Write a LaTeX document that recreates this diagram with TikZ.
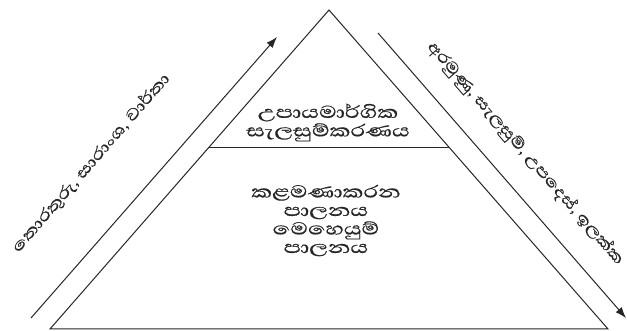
\documentclass[tikz,border=0pt]{standalone}
\usepackage{fontspec}
\newfontfamily\sinhfont[Script=Sinhala,FakeBold=0.5]{Abhaya Libre}
\newcommand{\widetxt}[1]{\scalebox{1.25}[1]{#1}}
\newcommand{\midtxt}[1]{\scalebox{1.33}[1]{#1}}
\usetikzlibrary{calc,arrows.meta}
\begin{document}
\begin{tikzpicture}[x=1pt,y=-1pt,
  edge/.style={line width=1pt,draw=black!85},
  flow/.style={line width=1pt,draw=black!85,-{Latex[length=11pt,width=8pt]}},
  lbl/.style={font=\sinhfont\fontsize{22}{18.5}\selectfont,text=black!85,inner sep=0pt,align=center},
  side/.style={font=\sinhfont\fontsize{20}{18.5}\selectfont,text=black!85,inner sep=0pt}]
\useasboundingbox (0,0) rectangle (627,331);
\coordinate (A) at (329,10);
\coordinate (B) at (50,329);
\coordinate (C) at (608,329);
\coordinate (D) at ($(A)!0.4295!(B)$);
\coordinate (E) at ($(A)!0.4295!(C)$);
\draw[edge] (A) -- (B) -- (C) -- cycle;
\draw[edge] (D) -- (E);
\node[lbl] (top) at (328,122.5) {\midtxt{උපායමාර්ගික}\\\midtxt{සැලසුම්කරණය}};
\node[lbl] (low) at (326,220.5) {\midtxt{කළමණාකරන}\\\midtxt{පාලනය}\\\midtxt{මෙහෙයුම්}\\\midtxt{පාලනය}};
\coordinate (L1) at (31,318);
\coordinate (L2) at (277,37);
\coordinate (R1) at (378,33);
\coordinate (R2) at (626,318);
\draw[flow] (L1) -- (L2);
\draw[flow] (R1) -- (R2);
\node[side,rotate=48.9] (up) at (91,163) {\widetxt{තොරතුරු, සාරාංශ, වාර්තා}};
\node[side,rotate=-48.9,anchor=west] (down) at (430,44) {\scalebox{1.2}[1]{අරමුණු, සැලසුම්, උපදෙස්, ඉලක්ක}};
\end{tikzpicture}
\end{document}
